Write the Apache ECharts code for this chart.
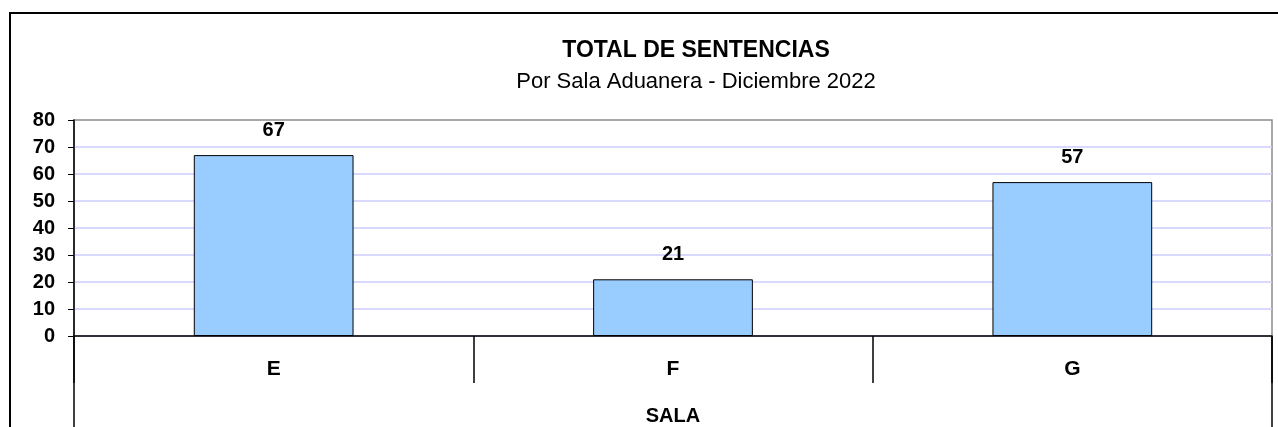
<!DOCTYPE html>
<html>
<head>
<meta charset="utf-8">
<script src="https://cdn.jsdelivr.net/npm/echarts@6/dist/echarts.min.js"></script>
<style>
  html, body { margin: 0; padding: 0; background: #fff; }
  #chart { width: 1278px; height: 427px; }
</style>
</head>
<body>
<div id="chart"></div>
<script>
// datos
const salas = ["E", "F", "G"];
const sentencias = [67, 21, 57];

const chart = echarts.init(document.getElementById("chart"));
const font = "Liberation Sans, Arial, sans-serif";

chart.setOption({
  backgroundColor: "#ffffff",
  animation: false,
  textStyle: { fontFamily: font, color: "#000" },
  title: {
    text: "TOTAL DE SENTENCIAS",
    subtext: "Por Sala Aduanera - Diciembre 2022",
    left: 691,
    top: 34,
    textAlign: "center",
    itemGap: 9,
    textStyle: { fontFamily: font, fontSize: 23, lineHeight: 23, fontWeight: "bold", color: "#000" },
    subtextStyle: { fontFamily: font, fontSize: 22, lineHeight: 22, color: "#000" },
  },
  grid: {
    left: 74,
    top: 120,
    right: 6,
    bottom: 91,
    outerBoundsMode: "none",
    containLabel: false,
    show: true,
    borderColor: "#8c8c8c",
    borderWidth: 1.5,
  },
  xAxis: {
    type: "category",
    data: salas,
    name: "SALA",
    nameLocation: "middle",
    nameGap: 70,
    nameTextStyle: { fontFamily: font, fontSize: 20, fontWeight: "bold", color: "#000" },
    axisLine: { lineStyle: { color: "#000", width: 1.5 } },
    axisTick: { show: true, length: 47, lineStyle: { color: "#000", width: 1.5 } },
    axisLabel: { margin: 23, fontSize: 21, fontWeight: "bold", color: "#000" },
  },
  yAxis: {
    type: "value",
    min: 0,
    max: 80,
    interval: 10,
    axisLine: { show: true, lineStyle: { color: "#000", width: 1.5 } },
    axisTick: { show: true, length: 6, lineStyle: { color: "#000" } },
    axisLabel: { margin: 19, fontSize: 20, fontWeight: "bold", color: "#000" },
    splitLine: { showMaxLine: false, lineStyle: { color: "#ccccff", width: 1.5 } },
  },
  series: [
    {
      type: "bar",
      data: sentencias,
      barWidth: "40%",
      itemStyle: { color: "#99ccff", borderColor: "#000", borderWidth: 1 },
      label: {
        show: true,
        position: "top",
        distance: 15,
        fontFamily: font,
        fontSize: 20,
        fontWeight: "bold",
        color: "#000",
      },
    },
  ],
  graphic: [
    // marco exterior
    {
      type: "rect",
      shape: { x: 10, y: 13, width: 1300, height: 500 },
      style: { fill: "none", stroke: "#000", lineWidth: 2 },
      silent: true,
    },
    // prolongación de los bordes de la tabla de categorías
    {
      type: "line",
      shape: { x1: 74, y1: 336, x2: 74, y2: 427 },
      style: { stroke: "#000", lineWidth: 1.5 },
      silent: true,
    },
    {
      type: "line",
      shape: { x1: 1272, y1: 336, x2: 1272, y2: 427 },
      style: { stroke: "#000", lineWidth: 1.5 },
      silent: true,
    },
  ],
});
</script>
</body>
</html>
